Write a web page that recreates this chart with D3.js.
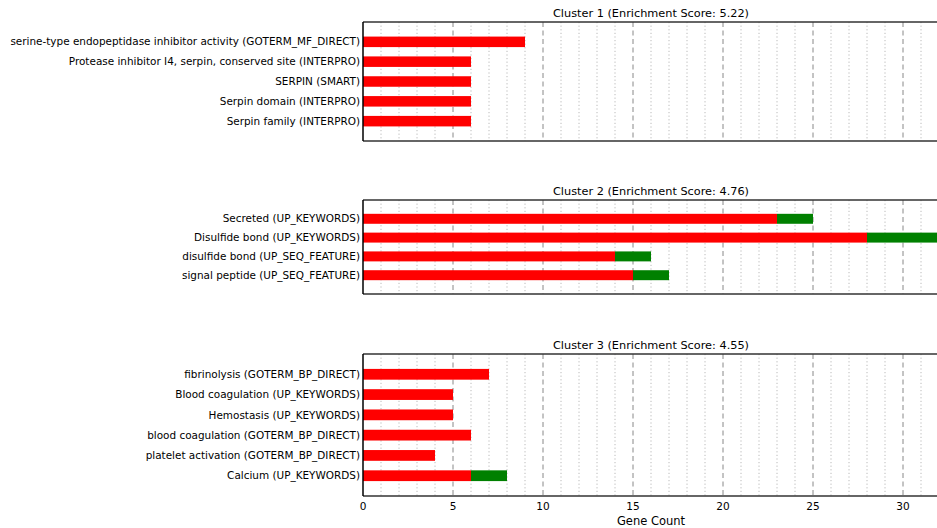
<!DOCTYPE html>
<html><head><meta charset="utf-8">
<script src="https://cdn.jsdelivr.net/npm/d3@7"></script>
<style>body{margin:0;background:#fff}svg{display:block}text{font-family:"DejaVu Sans",sans-serif}</style>
</head><body><svg id="c" width="937" height="528"></svg>
<script>
const clusterTitles = ["Cluster 1 (Enrichment Score: 5.22)","Cluster 2 (Enrichment Score: 4.76)","Cluster 3 (Enrichment Score: 4.55)"];
const cluster1Terms = ["serine-type endopeptidase inhibitor activity (GOTERM_MF_DIRECT)","Protease inhibitor I4, serpin, conserved site (INTERPRO)","SERPIN (SMART)","Serpin domain (INTERPRO)","Serpin family (INTERPRO)"];
const cluster1Red = [9,6,6,6,6];
const cluster1Green = [0,0,0,0,0];
const cluster2Terms = ["Secreted (UP_KEYWORDS)","Disulfide bond (UP_KEYWORDS)","disulfide bond (UP_SEQ_FEATURE)","signal peptide (UP_SEQ_FEATURE)"];
const cluster2Red = [23,28,14,15];
const cluster2Green = [2,5,2,2];
const cluster3Terms = ["fibrinolysis (GOTERM_BP_DIRECT)","Blood coagulation (UP_KEYWORDS)","Hemostasis (UP_KEYWORDS)","blood coagulation (GOTERM_BP_DIRECT)","platelet activation (GOTERM_BP_DIRECT)","Calcium (UP_KEYWORDS)"];
const cluster3Red = [7,5,5,6,4,6];
const cluster3Green = [0,0,0,0,0,2];
const xTicks = [0,5,10,15,20,25,30];
const xMax = 32;

const clusters = [
  {title: clusterTitles[0], terms: cluster1Terms, red: cluster1Red, green: cluster1Green},
  {title: clusterTitles[1], terms: cluster2Terms, red: cluster2Red, green: cluster2Green},
  {title: clusterTitles[2], terms: cluster3Terms, red: cluster3Red, green: cluster3Green}
];
const panels = [[22,141],[200,294],[354,496]];
const left = 363, right = 939;

const svg = d3.select("#c");
const x = d3.scaleLinear().domain([0,xMax]).range([left,right]);
const clipId = "clipP";
svg.append("defs").append("clipPath").attr("id",clipId).append("rect")
  .attr("x",left).attr("y",0).attr("width",937-left).attr("height",528);

clusters.forEach((c,i)=>{
  const [top,bot] = panels[i];
  const g = svg.append("g");
  const y = d3.scalePoint().domain(d3.range(c.terms.length)).range([top,bot]).padding(1);
  const bh = y.step()*0.53;
  const gg = g.append("g").attr("clip-path",`url(#${clipId})`);
  gg.selectAll("line.minor").data(d3.range(1,xMax+1).filter(v=>v%5!==0)).join("line")
    .attr("x1",d=>x(d)).attr("x2",d=>x(d)).attr("y1",top).attr("y2",bot)
    .attr("stroke","#a8a8a8").attr("stroke-width",0.8).attr("stroke-dasharray","1.2,2.4");
  gg.selectAll("line.major").data(d3.range(5,xMax+1,5)).join("line")
    .attr("x1",d=>x(d)).attr("x2",d=>x(d)).attr("y1",top).attr("y2",bot)
    .attr("stroke","#888").attr("stroke-width",1).attr("stroke-dasharray","5,3.5");
  const bars = g.append("g").attr("clip-path",`url(#${clipId})`);
  bars.selectAll("rect.r").data(c.red).join("rect")
    .attr("x",x(0)).attr("y",(d,j)=>y(j)-bh/2).attr("width",d=>x(d)-x(0)).attr("height",bh).attr("fill","#ff0000");
  bars.selectAll("rect.g").data(c.green).join("rect")
    .attr("x",(d,j)=>x(c.red[j])).attr("y",(d,j)=>y(j)-bh/2)
    .attr("width",(d,j)=>x(c.red[j]+d)-x(c.red[j])).attr("height",bh).attr("fill","#008000");
  g.append("line").attr("x1",left).attr("x2",937).attr("y1",top).attr("y2",top).attr("stroke","#333").attr("stroke-width",1.5);
  g.append("line").attr("x1",left).attr("x2",937).attr("y1",bot).attr("y2",bot).attr("stroke","#333").attr("stroke-width",1.5);
  g.append("line").attr("x1",left).attr("x2",left).attr("y1",top).attr("y2",bot).attr("stroke","#000").attr("stroke-width",1.5);
  g.selectAll("text.lab").data(c.terms).join("text")
    .attr("x",left-3).attr("y",(d,j)=>y(j)).attr("dy","0.35em").attr("text-anchor","end")
    .attr("font-size",10.45).attr("fill","#000").text(d=>d);
  g.append("text").attr("x",(left+right)/2).attr("y",top-5).attr("text-anchor","middle")
    .attr("font-size",11.3).attr("fill","#000").text(c.title);
});

const lastBot = panels[2][1];
svg.append("g").selectAll("text").data(xTicks).join("text")
  .attr("x",d=>x(d)).attr("y",lastBot+14).attr("text-anchor","middle")
  .attr("font-size",10.5).attr("fill","#000").text(d=>d);
svg.append("text").attr("x",(left+right)/2).attr("y",lastBot+28.5).attr("text-anchor","middle")
  .attr("font-size",11.5).attr("fill","#000").text("Gene Count");
</script></body></html>
